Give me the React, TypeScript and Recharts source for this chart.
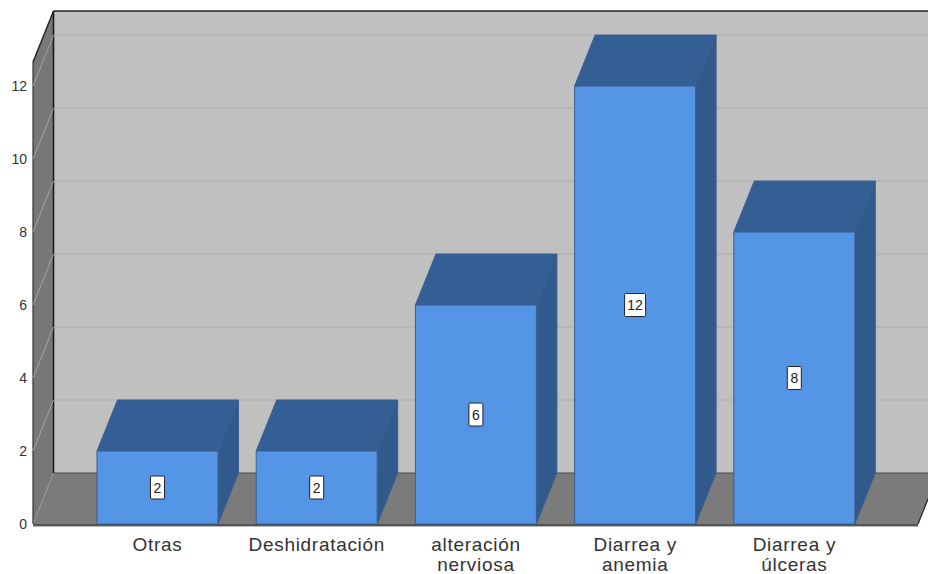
import { BarChart, Bar, XAxis, YAxis, LabelList, ReferenceArea } from "recharts";

const categories = ["Otras", "Deshidratación", "alteración\nnerviosa", "Diarrea y\nanemia", "Diarrea y\núlceras"];
const counts = [2, 2, 6, 12, 8];
const yTicks = [0, 2, 4, 6, 8, 10, 12];
const Y_MAX = 12.66;

const rows = categories.map((name, i) => ({ name, count: counts[i] }));

// oblique depth of the 3D box
const DX = 20.5;
const DY = -51;
// the floor sticks out past the first and last category band
const PAD_LEFT = 45;
const PAD_RIGHT = 44;

const FONT = "'Liberation Sans', Arial, sans-serif";

function Room({ x, y, width, height }: any) {
  const l = x - PAD_LEFT;
  const r = x + width + PAD_RIGHT;
  const t = y;
  const b = y + height;
  return (
    <g>
      <rect x={l + DX} y={t + DY} width={r - l} height={height} fill="#c0c0c0" />
      <polygon points={`${l},${b} ${l + DX},${b + DY} ${l + DX},${t + DY} ${l},${t}`} fill="#777777" />
      <polygon points={`${l},${b} ${r},${b} ${r + DX},${b + DY} ${l + DX},${b + DY}`} fill="#7b7b7b" />
      <line x1={l + DX} y1={b + DY} x2={r + DX} y2={b + DY} stroke="#4a4a4a" strokeWidth={1.2} />
      <line x1={l} y1={b} x2={l + DX} y2={b + DY} stroke="#a8a8a8" strokeWidth={1} strokeDasharray="1.5 1.5" />
      <line x1={r} y1={b} x2={r + DX} y2={b + DY} stroke="#222222" strokeWidth={1.2} />
      <line x1={l} y1={t} x2={l} y2={b} stroke="#333333" strokeWidth={1.2} />
      <line x1={l} y1={t} x2={l + DX} y2={t + DY} stroke="#222222" strokeWidth={1.4} />
      <line x1={l + DX} y1={t + DY} x2={r + DX} y2={t + DY} stroke="#222222" strokeWidth={1.6} />
      <line x1={l + DX} y1={t + DY} x2={l + DX} y2={b + DY} stroke="#1c1c1c" strokeWidth={1.6} />
      <line x1={l} y1={b + 1} x2={r} y2={b + 1} stroke="#1c1c1c" strokeWidth={1.4} />
      <line x1={l} y1={b + 2.5} x2={r} y2={b + 2.5} stroke="#b8b8b8" strokeWidth={1} />
    </g>
  );
}

// one value's gridline, running up the side wall and across the back wall
function GridLine({ x, y, width }: any) {
  const l = x - PAD_LEFT;
  const r = x + width + PAD_RIGHT;
  return (
    <g fill="none">
      <line x1={l} y1={y} x2={l + DX} y2={y + DY} stroke="#a4a4a4" strokeWidth={1} />
      <line x1={l + DX + 1} y1={y + DY} x2={r + DX} y2={y + DY} stroke="#b3b3b3" strokeWidth={1.4} />
    </g>
  );
}

function Box3D({ x, y, width, height }: any) {
  const right = x + width;
  const bottom = y + height;
  return (
    <g stroke="#3a5f90" strokeWidth={1}>
      <polygon points={`${x},${y} ${x + DX},${y + DY} ${right + DX},${y + DY} ${right},${y}`} fill="#345f95" />
      <polygon points={`${right},${y} ${right + DX},${y + DY} ${right + DX},${bottom + DY} ${right},${bottom}`} fill="#32598b" />
      <rect x={x} y={y} width={width} height={height} fill="#5595e5" />
    </g>
  );
}

function ValueTag({ x, y, width, height, value }: any) {
  const cx = x + width / 2;
  const cy = y + height / 2;
  const w = String(value).length > 1 ? 21 : 14;
  return (
    <g>
      <rect x={cx - w / 2} y={cy - 11.5} width={w} height={23} fill="#ffffff" stroke="#222222" strokeWidth={1} rx={1} />
      <text x={cx} y={cy + 5} textAnchor="middle" fontSize={14} fontFamily={FONT} fill="#222222">
        {value}
      </text>
    </g>
  );
}

function CategoryTick({ x, payload }: any) {
  const lines = String(payload.value).split("\n");
  return (
    <text textAnchor="middle" fontSize={19} letterSpacing={0.7} fontFamily={FONT} fill="#333333">
      {lines.map((line, i) => (
        <tspan key={line} x={x} y={551 + i * 19.5}>
          {line}
        </tspan>
      ))}
    </text>
  );
}

export default function App() {
  return (
    <div style={{ position: "absolute", left: 0, top: 0, width: 928, height: 574, background: "#ffffff" }}>
      <BarChart
        width={928}
        height={574}
        data={rows}
        barCategoryGap={38}
        margin={{ top: 62, right: 54, bottom: 0, left: 0 }}
      >
        <ReferenceArea y1={0} y2={Y_MAX} ifOverflow="visible" shape={<Room />} fill="none" stroke="none" />
        {yTicks.slice(1).map((t) => (
          <ReferenceArea key={t} y1={t} y2={t} ifOverflow="visible" shape={<GridLine />} />
        ))}
        <XAxis dataKey="name" interval={0} height={50} axisLine={false} tickLine={false} tick={<CategoryTick />} />
        <YAxis
          type="number"
          domain={[0, Y_MAX]}
          ticks={yTicks}
          width={78}
          axisLine={false}
          tickLine={false}
          tickSize={0}
          tickMargin={51}
          tick={{ fontSize: 14, fontFamily: FONT, fill: "#333333" }}
        />
        <Bar dataKey="count" barSize={121} isAnimationActive={false} shape={<Box3D />}>
          <LabelList dataKey="count" content={<ValueTag />} />
        </Bar>
      </BarChart>
    </div>
  );
}
